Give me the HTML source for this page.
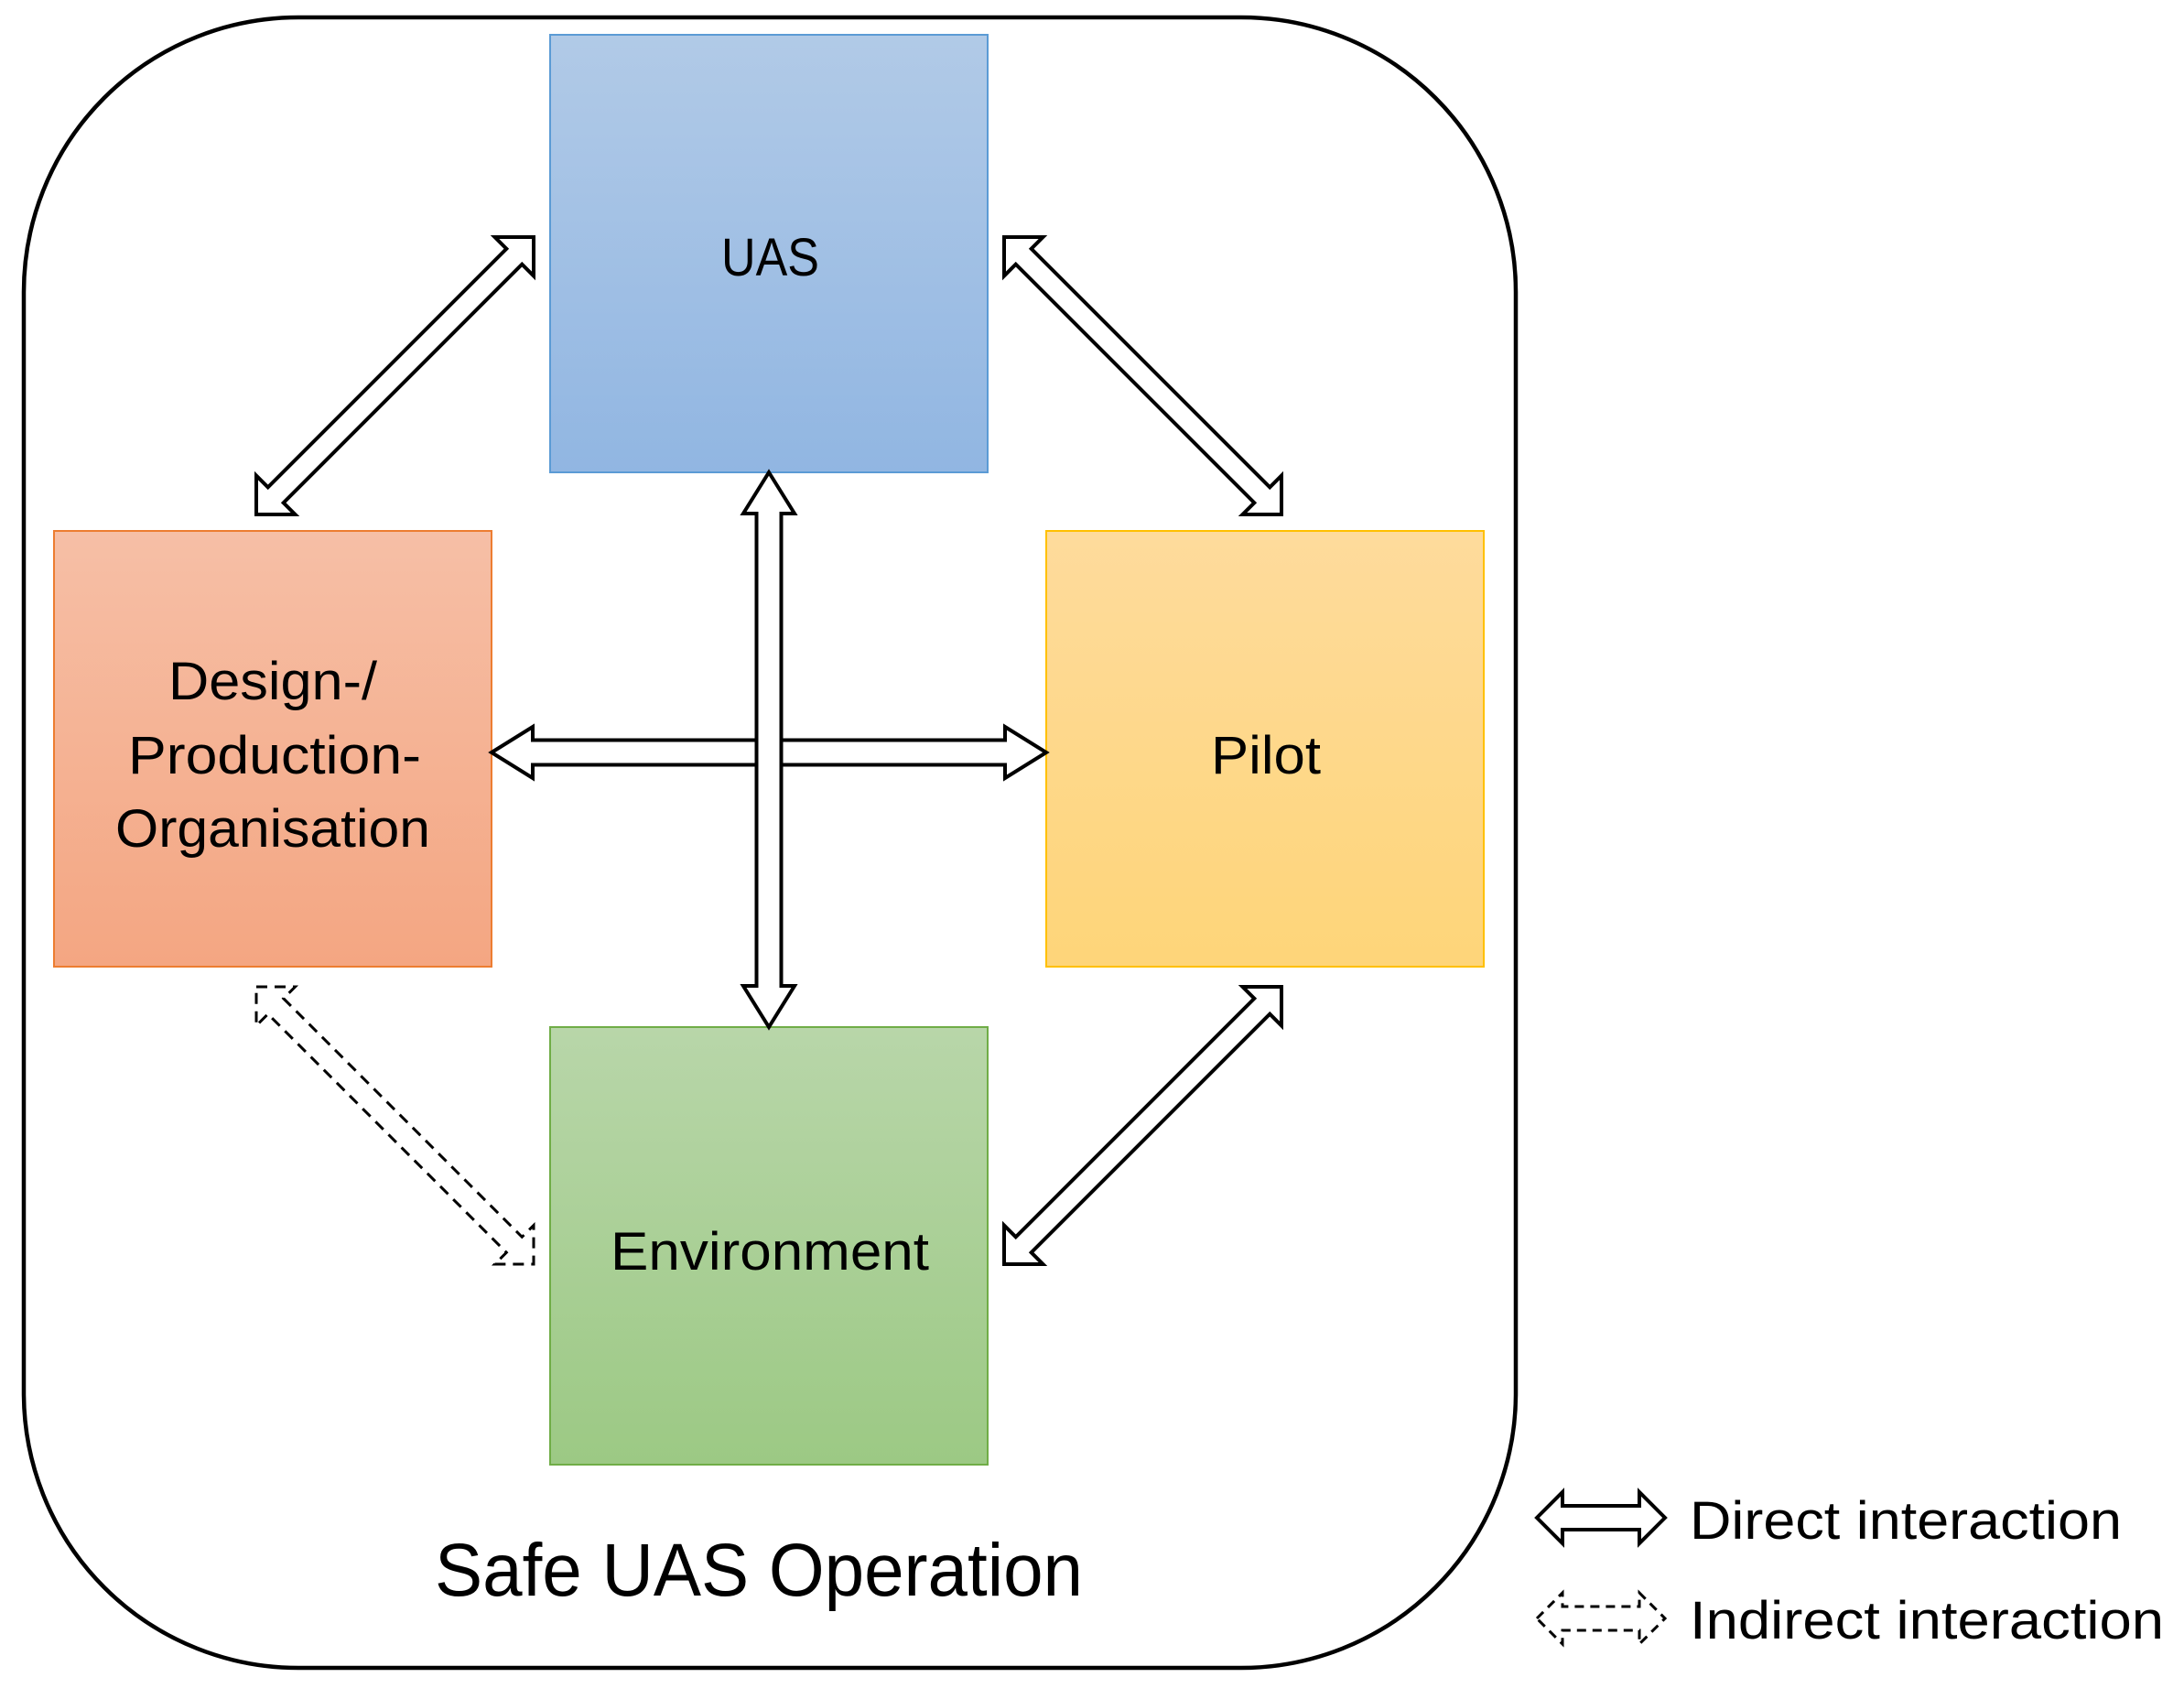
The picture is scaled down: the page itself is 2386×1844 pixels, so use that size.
<!DOCTYPE html>
<html><head><meta charset="utf-8"><style>html,body{margin:0;padding:0;background:#fff}svg{display:block}</style></head><body>
<svg width="2386" height="1844" viewBox="0 0 2386 1844" xmlns="http://www.w3.org/2000/svg" font-family="Liberation Sans, sans-serif">
<defs>
<linearGradient id="gb" x1="0" y1="0" x2="0" y2="1"><stop offset="0" stop-color="#b1cae7"/><stop offset="1" stop-color="#91b6e2"/></linearGradient>
<linearGradient id="go" x1="0" y1="0" x2="0" y2="1"><stop offset="0" stop-color="#f6bfa6"/><stop offset="1" stop-color="#f4a682"/></linearGradient>
<linearGradient id="gy" x1="0" y1="0" x2="0" y2="1"><stop offset="0" stop-color="#fedb9c"/><stop offset="1" stop-color="#fed579"/></linearGradient>
<linearGradient id="gg" x1="0" y1="0" x2="0" y2="1"><stop offset="0" stop-color="#b8d6a9"/><stop offset="1" stop-color="#9cc984"/></linearGradient>
</defs>
<rect x="26" y="19" width="1630" height="1803" rx="300" ry="300" fill="#fff" stroke="#000" stroke-width="4.5"/>
<rect x="601" y="38" width="478" height="478" fill="url(#gb)" stroke="#5b9bd5" stroke-width="2"/>
<rect x="59" y="580" width="478" height="476" fill="url(#go)" stroke="#ed7d31" stroke-width="2"/>
<rect x="1143" y="580" width="478" height="476" fill="url(#gy)" stroke="#ffc000" stroke-width="2"/>
<rect x="601" y="1122" width="478" height="478" fill="url(#gg)" stroke="#70ad47" stroke-width="2"/>
<g fill="#fff" stroke="#000" stroke-width="4" stroke-linejoin="miter">
<polygon transform="translate(537,822)" points="0,0 45,-28 45,-13.5 561,-13.5 561,-28 606,0 561,28 561,13.5 45,13.5 45,28"/>
<polygon transform="translate(840,516) rotate(90)" points="0,0 45,-28 45,-13.5 561,-13.5 561,-28 606,0 561,28 561,13.5 45,13.5 45,28"/>
<polygon transform="translate(583,259) rotate(135)" points="0,0 30,-30 30,-12 398.5,-12 398.5,-30 428.5,0 398.5,30 398.5,12 30,12 30,30"/>
<polygon transform="translate(1097,259) rotate(45)" points="0,0 30,-30 30,-12 398.5,-12 398.5,-30 428.5,0 398.5,30 398.5,12 30,12 30,30"/>
<polygon transform="translate(1400,1078) rotate(135)" points="0,0 30,-30 30,-12 398.5,-12 398.5,-30 428.5,0 398.5,30 398.5,12 30,12 30,30"/>
<polygon transform="translate(280,1078) rotate(45)" stroke-dasharray="12,8" stroke-width="3" points="0,0 30,-30 30,-12 398.5,-12 398.5,-30 428.5,0 398.5,30 398.5,12 30,12 30,30"/>
<polygon transform="translate(1679,1658)" points="0,0 28,-28 28,-13 112,-13 112,-28 140,0 112,28 112,13 28,13 28,28"/>
<polygon transform="translate(1679,1768)" stroke-dasharray="10,7" stroke-width="3" points="0,0 28,-28 28,-13 112,-13 112,-28 140,0 112,28 112,13 28,13 28,28"/>
</g>
<g fill="#000" font-size="58">
<text x="788" y="301" textLength="107" lengthAdjust="spacingAndGlyphs">UAS</text>
<text x="184" y="764" textLength="228" lengthAdjust="spacingAndGlyphs">Design-/</text>
<text x="140" y="845" textLength="320" lengthAdjust="spacingAndGlyphs">Production-</text>
<text x="126" y="925" textLength="344" lengthAdjust="spacingAndGlyphs">Organisation</text>
<text x="1323" y="845" textLength="120" lengthAdjust="spacingAndGlyphs">Pilot</text>
<text x="667" y="1387" textLength="348" lengthAdjust="spacingAndGlyphs">Environment</text>
<text x="475" y="1743" font-size="82" textLength="708" lengthAdjust="spacingAndGlyphs">Safe UAS Operation</text>
<text x="1846" y="1681" textLength="472" lengthAdjust="spacingAndGlyphs">Direct interaction</text>
<text x="1846" y="1790" textLength="518" lengthAdjust="spacingAndGlyphs">Indirect interaction</text>
</g>
</svg>
</body></html>
